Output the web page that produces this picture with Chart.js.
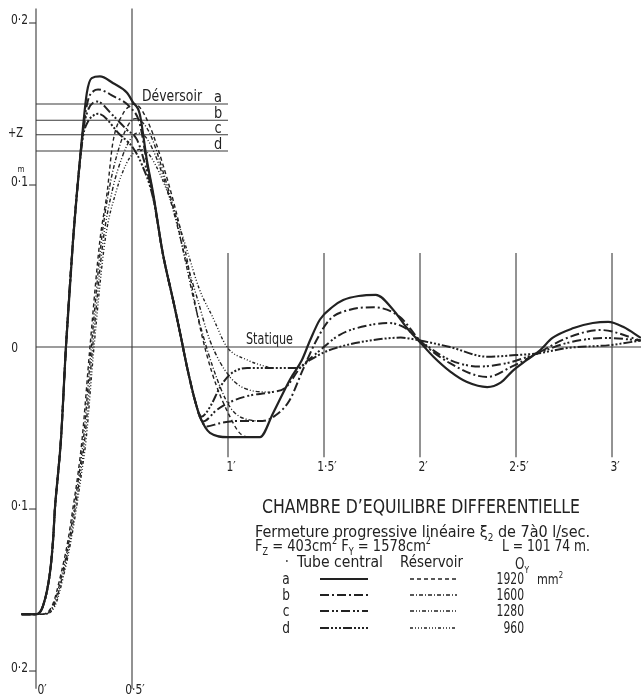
<!DOCTYPE html>
<html>
<head>
<meta charset="utf-8">
<script src="https://cdn.jsdelivr.net/npm/chart.js@4"></script>
<style>
html, body { margin: 0; padding: 0; background: #fff; }
canvas { display: block; }
</style>
</head>
<body>
<canvas id="chambre" width="641" height="695"></canvas>
<script>
const tubeA = [[-0.075,-0.165],[0,-0.165],[0.036,-0.160],[0.073,-0.139],[0.089,-0.119],[0.099,-0.099],[0.115,-0.078],[0.130,-0.057],[0.156,0.000],[0.193,0.066],[0.213,0.095],[0.245,0.136],[0.265,0.157],[0.290,0.166],[0.333,0.167],[0.400,0.163],[0.474,0.157],[0.505,0.151],[0.540,0.144],[0.578,0.115],[0.610,0.095],[0.660,0.058],[0.714,0.029],[0.750,0.009],[0.786,-0.012],[0.828,-0.033],[0.854,-0.043],[0.906,-0.053],[1.000,-0.0556],[1.167,-0.0556],[1.234,-0.041],[1.323,-0.020],[1.385,-0.008],[1.427,0.004],[1.479,0.017],[1.547,0.025],[1.600,0.029],[1.680,0.0315],[1.770,0.0322],[1.860,0.023],[1.930,0.012],[2.000,0.003],[2.070,-0.006],[2.156,-0.015],[2.245,-0.0216],[2.350,-0.0247],[2.420,-0.022],[2.480,-0.015],[2.557,-0.008],[2.625,-0.002],[2.690,0.0056],[2.800,0.0117],[2.900,0.0148],[2.980,0.0155],[3.060,0.0123],[3.150,0.0056]];
const tubeB = [[-0.075,-0.165],[0,-0.165],[0.036,-0.160],[0.073,-0.139],[0.089,-0.119],[0.099,-0.099],[0.115,-0.078],[0.130,-0.057],[0.156,0.000],[0.193,0.066],[0.213,0.095],[0.245,0.134],[0.270,0.152],[0.300,0.158],[0.323,0.159],[0.400,0.155],[0.490,0.148],[0.540,0.138],[0.580,0.112],[0.610,0.094],[0.660,0.058],[0.714,0.029],[0.750,0.009],[0.786,-0.012],[0.828,-0.033],[0.860,-0.045],[0.890,-0.049],[0.958,-0.047],[1.047,-0.0457],[1.180,-0.0457],[1.250,-0.042],[1.320,-0.033],[1.390,-0.014],[1.460,0.004],[1.530,0.017],[1.635,0.023],[1.760,0.0245],[1.896,0.0185],[2.000,0.004],[2.156,-0.010],[2.350,-0.0185],[2.480,-0.012],[2.610,-0.004],[2.766,0.0056],[2.940,0.0105],[3.150,0.004]];
const tubeC = [[-0.075,-0.165],[0,-0.165],[0.036,-0.160],[0.073,-0.139],[0.089,-0.119],[0.099,-0.099],[0.115,-0.078],[0.130,-0.057],[0.156,0.000],[0.193,0.066],[0.213,0.095],[0.245,0.133],[0.270,0.146],[0.300,0.151],[0.318,0.1515],[0.400,0.143],[0.474,0.134],[0.526,0.128],[0.570,0.112],[0.610,0.093],[0.660,0.058],[0.714,0.029],[0.750,0.009],[0.786,-0.012],[0.828,-0.033],[0.870,-0.046],[0.940,-0.039],[1.010,-0.034],[1.110,-0.030],[1.220,-0.028],[1.300,-0.025],[1.375,-0.013],[1.480,-0.002],[1.580,0.0074],[1.740,0.0136],[1.840,0.0148],[1.920,0.012],[2.000,0.004],[2.156,-0.008],[2.310,-0.012],[2.450,-0.010],[2.610,-0.004],[2.766,0.0025],[2.970,0.0056],[3.150,0.004]];
const tubeD = [[-0.075,-0.165],[0,-0.165],[0.036,-0.160],[0.073,-0.139],[0.089,-0.119],[0.099,-0.099],[0.115,-0.078],[0.130,-0.057],[0.156,0.000],[0.193,0.066],[0.213,0.095],[0.245,0.130],[0.270,0.139],[0.300,0.143],[0.323,0.144],[0.4375,0.131],[0.505,0.123],[0.550,0.113],[0.610,0.092],[0.660,0.058],[0.714,0.029],[0.750,0.009],[0.786,-0.012],[0.828,-0.033],[0.862,-0.043],[0.906,-0.037],[0.958,-0.025],[1.010,-0.017],[1.100,-0.013],[1.220,-0.013],[1.360,-0.013],[1.427,-0.008],[1.505,-0.003],[1.610,0.001],[1.740,0.004],[1.900,0.0058],[2.000,0.004],[2.156,0.000],[2.350,-0.006],[2.500,-0.005],[2.610,-0.004],[2.766,-0.0006],[2.990,0.0012],[3.150,0.004]];

const resA = [[-0.075,-0.165],[0,-0.165],[0.020,-0.165],[0.083,-0.160],[0.130,-0.140],[0.167,-0.119],[0.193,-0.099],[0.219,-0.078],[0.240,-0.057],[0.281,0.000],[0.333,0.066],[0.370,0.095],[0.400,0.126],[0.453,0.144],[0.490,0.149],[0.505,0.150],[0.540,0.148],[0.594,0.136],[0.660,0.113],[0.720,0.088],[0.780,0.058],[0.840,0.020],[0.890,-0.005],[0.940,-0.024],[1.010,-0.043],[1.060,-0.053],[1.120,-0.0556],[1.167,-0.0556]];
const resB = [[-0.075,-0.165],[0,-0.165],[0.025,-0.165],[0.088,-0.160],[0.136,-0.140],[0.173,-0.119],[0.199,-0.099],[0.225,-0.078],[0.247,-0.057],[0.288,0.000],[0.341,0.066],[0.385,0.100],[0.430,0.122],[0.480,0.137],[0.516,0.141],[0.560,0.138],[0.600,0.130],[0.660,0.109],[0.720,0.084],[0.780,0.052],[0.830,0.025],[0.920,-0.012],[1.010,-0.037],[1.110,-0.045],[1.180,-0.0457]];
const resC = [[-0.075,-0.165],[0,-0.165],[0.030,-0.165],[0.093,-0.160],[0.141,-0.140],[0.178,-0.119],[0.205,-0.099],[0.231,-0.078],[0.254,-0.057],[0.295,0.000],[0.350,0.066],[0.400,0.098],[0.445,0.116],[0.490,0.128],[0.526,0.132],[0.560,0.131],[0.600,0.124],[0.660,0.106],[0.720,0.082],[0.780,0.054],[0.840,0.030],[0.906,0.004],[1.010,-0.0185],[1.110,-0.0265],[1.220,-0.028]];
const resD = [[-0.075,-0.165],[0,-0.165],[0.035,-0.165],[0.098,-0.160],[0.146,-0.140],[0.183,-0.119],[0.211,-0.099],[0.237,-0.078],[0.261,-0.057],[0.302,0.000],[0.360,0.066],[0.420,0.097],[0.470,0.113],[0.510,0.120],[0.540,0.122],[0.580,0.120],[0.620,0.113],[0.700,0.091],[0.786,0.060],[0.850,0.036],[0.920,0.0185],[0.995,0.000],[1.100,-0.008],[1.220,-0.013]];

const deversoir = [0.150, 0.140, 0.131, 0.121];
const cas = ['a', 'b', 'c', 'd'];
const ouvertures = ['1920', '1600', '1280', '960'];
const xTicks = [0, 0.5, 1, 1.5, 2, 2.5, 3];
const xTickLabels = ['0′', '0·5′', '1′', '1·5′', '2′', '2·5′', '3′'];
const yTicks = [0.2, 0.1, 0, -0.1, -0.2];
const yTickLabels = ['0·2', '0·1', '0', '0·1', '0·2'];

const FONT = "'DejaVu Sans Condensed', 'DejaVu Sans', sans-serif";
const INK = '#222';
const tubeDash = [[], [9, 3, 2, 3], [9, 3, 2, 2, 2, 3], [9, 2, 2, 2, 2, 2, 2, 2]];
const resDash = [[4, 3], [4, 2, 1, 2], [4, 2, 1, 2, 1, 2], [3, 2, 1, 2, 1, 2, 1, 2]];

// texte avec indices / exposants, étiré ou comprimé en largeur
function texte(ctx, parts, x, y, size, opt = {}) {
  let w = 0;
  const mes = parts.map(([s, m]) => {
    const fs = m ? size * 0.62 : size;
    ctx.font = fs + 'px ' + FONT;
    const ww = ctx.measureText(s).width;
    w += ww;
    return { s, m, fs, ww };
  });
  const k = opt.w ? opt.w / w : (opt.sx || 0.88);
  const total = w * k;
  const x0 = opt.align === 'center' ? x - total / 2 : opt.align === 'right' ? x - total : x;
  ctx.save();
  ctx.fillStyle = INK;
  ctx.textAlign = 'left';
  ctx.textBaseline = 'alphabetic';
  ctx.translate(x0, y);
  ctx.scale(k, 1);
  let cx = 0;
  mes.forEach(p => {
    ctx.font = p.fs + 'px ' + FONT;
    const dy = p.m === 'sub' ? size * 0.25 : p.m === 'sup' ? -size * 0.42 : 0;
    ctx.fillText(p.s, cx, dy);
    cx += p.ww;
  });
  ctx.restore();
}

const decor = {
  id: 'decor',
  beforeDatasetsDraw(chart) {
    const { ctx } = chart;
    const sx = chart.scales.x, sy = chart.scales.y;
    const X = v => sx.getPixelForValue(v), Y = v => sy.getPixelForValue(v);
    const seg = (x1, y1, x2, y2) => { ctx.beginPath(); ctx.moveTo(x1, y1); ctx.lineTo(x2, y2); ctx.stroke(); };
    ctx.save();
    ctx.strokeStyle = '#3a3a3a';
    ctx.lineWidth = 1.1;
    xTicks.forEach(t => {
      const [haut, bas] = t <= 0.5 ? [0.209, -0.211] : [0.058, -0.068];
      seg(X(t), Y(haut), X(t), Y(bas));
    });
    yTicks.forEach(v => { if (v !== 0) seg(X(-0.036), Y(v), X(0), Y(v)); });
    seg(X(0), Y(0), sx.right, Y(0));
    deversoir.forEach(v => seg(X(0), Y(v), X(1.0), Y(v)));
    ctx.restore();
  },
  afterDatasetsDraw(chart) {
    const { ctx } = chart;
    const sx = chart.scales.x, sy = chart.scales.y;
    const X = v => sx.getPixelForValue(v), Y = v => sy.getPixelForValue(v);

    // graduations
    yTicks.forEach((v, i) => {
      const base = v === 0 ? Y(v) + 5 : Y(v) + 1;
      texte(ctx, [[yTickLabels[i]]], v === 0 ? 18 : 28, base, 14, { align: 'right', sx: 0.85 });
    });
    texte(ctx, [['m']], 21, Y(0.1) - 13, 9, { align: 'center', sx: 0.9 });
    texte(ctx, [['+Z']], 8, 137, 14, { w: 15 });
    xTicks.forEach((t, i) => {
      const base = t <= 0.5 ? 694 : 471;
      texte(ctx, [[xTickLabels[i]]], X(t) + (t === 0 ? 6 : 3), base, 14, { align: 'center', sx: 0.85 });
    });

    // déversoir, statique
    texte(ctx, [['Déversoir']], 142, Y(deversoir[0]) - 3, 16, { w: 60 });
    deversoir.forEach((v, i) => texte(ctx, [[cas[i]]], 218, Y(v) - 2, 16, { align: 'center', sx: 0.9 }));
    texte(ctx, [['Statique']], 246, Y(0) - 3, 15, { w: 47 });

    // cartouche
    texte(ctx, [['CHAMBRE D’EQUILIBRE DIFFERENTIELLE']], 262, 513, 20, { w: 318 });
    texte(ctx, [['Fermeture progressive linéaire ξ'], ['2', 'sub'], [' de 7à0 l/sec.']], 255, 537, 16, { w: 335 });
    texte(ctx, [['F'], ['Z', 'sub'], [' = 403cm'], ['2', 'sup'], [' F'], ['Y', 'sub'], [' = 1578cm'], ['2', 'sup']], 255, 551, 16, { w: 176 });
    texte(ctx, [['L = 101 74 m.']], 502, 551, 15, { w: 88 });
    texte(ctx, [['·']], 285, 567, 15);
    texte(ctx, [['Tube central']], 297, 567, 15, { w: 86 });
    texte(ctx, [['Réservoir']], 400, 567, 15, { w: 63 });
    texte(ctx, [['O'], ['Y', 'sub']], 515, 569, 15, { w: 14 });
    const lignes = [584, 600, 616, 633];
    lignes.forEach((b, i) => {
      texte(ctx, [[cas[i]]], 286, b, 15, { align: 'center', sx: 0.9 });
      texte(ctx, [[ouvertures[i]]], 524, b, 15, { align: 'right', sx: 0.8 });
      ctx.save();
      ctx.strokeStyle = INK;
      ctx.lineWidth = 2;
      ctx.setLineDash(tubeDash[i]);
      ctx.beginPath(); ctx.moveTo(320, b - 5); ctx.lineTo(368, b - 5); ctx.stroke();
      ctx.lineWidth = 1.4;
      ctx.setLineDash(resDash[i]);
      ctx.beginPath(); ctx.moveTo(410, b - 5); ctx.lineTo(457, b - 5); ctx.stroke();
      ctx.restore();
    });
    texte(ctx, [['mm'], ['2', 'sup']], 537, lignes[0], 14, { w: 26 });
  }
};

const pts = arr => arr.map(([t, h]) => ({ x: t, y: h }));
const serie = (arr, dash, width) => ({
  data: pts(arr),
  borderColor: INK,
  borderWidth: width,
  borderDash: dash,
  pointRadius: 0,
  fill: false
});

new Chart(document.getElementById('chambre'), {
  type: 'line',
  data: {
    datasets: [
      serie(resD, resDash[3], 1.4),
      serie(resC, resDash[2], 1.4),
      serie(resB, resDash[1], 1.4),
      serie(resA, resDash[0], 1.4),
      serie(tubeD, tubeDash[3], 2),
      serie(tubeC, tubeDash[2], 2),
      serie(tubeB, tubeDash[1], 2),
      serie(tubeA, tubeDash[0], 2.2)
    ]
  },
  options: {
    responsive: false,
    animation: false,
    devicePixelRatio: 1,
    layout: { padding: 0 },
    scales: {
      x: { type: 'linear', min: -0.1875, max: 3.151, display: false },
      y: { min: -0.2148, max: 0.2142, display: false }
    },
    plugins: { legend: { display: false }, tooltip: { enabled: false } },
    elements: { line: { cubicInterpolationMode: 'monotone', borderJoinStyle: 'round' } }
  },
  plugins: [decor]
});
</script>
</body>
</html>
